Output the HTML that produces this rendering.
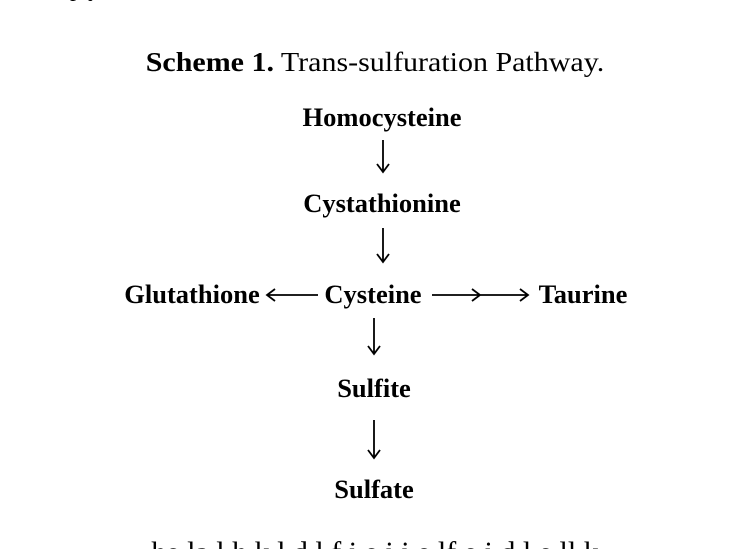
<html><head><style>body{margin:0;background:#fff}</style></head><body>
<svg width="750" height="549" xmlns="http://www.w3.org/2000/svg" style="display:block">
<g font-family="Liberation Serif, serif" fill="#000">
<text x="70" y="-4" font-size="24">p y</text>
<text x="375" y="71" font-size="30" text-anchor="middle" transform="translate(375 71) scale(1 0.9) translate(-375 -71)"><tspan font-weight="bold">Scheme 1.</tspan> Trans-sulfuration Pathway.</text>
<g font-weight="bold" font-size="26.5" text-anchor="middle">
<text x="382" y="126">Homocysteine</text>
<text x="382" y="212">Cystathionine</text>
<text x="192" y="303">Glutathione</text>
<text x="373" y="303">Cysteine</text>
<text x="583" y="303">Taurine</text>
<text x="374" y="397">Sulfite</text>
<text x="374" y="498">Sulfate</text>
</g>
<text x="375" y="562" font-size="30" text-anchor="middle">he la  l  h  k  l  d  l  f  i  e  i  i  e  lf  e  i  d l  e  ll  k</text>
</g>
<g stroke="#000" stroke-width="1.8" fill="none">
<path d="M383 140V172M377 164L383 172L389 164"/>
<path d="M383 228V262M377 254L383 262L389 254"/>
<path d="M374 318V354M368 346L374 354L380 346"/>
<path d="M374 420V458M368 450L374 458L380 450"/>
<path d="M318 295H267M275 289L267 295L275 301"/>
<path d="M432 295H528M480 295M472 289L480 295L472 301M520 289L528 295L520 301"/>
</g>
</svg>
</body></html>
